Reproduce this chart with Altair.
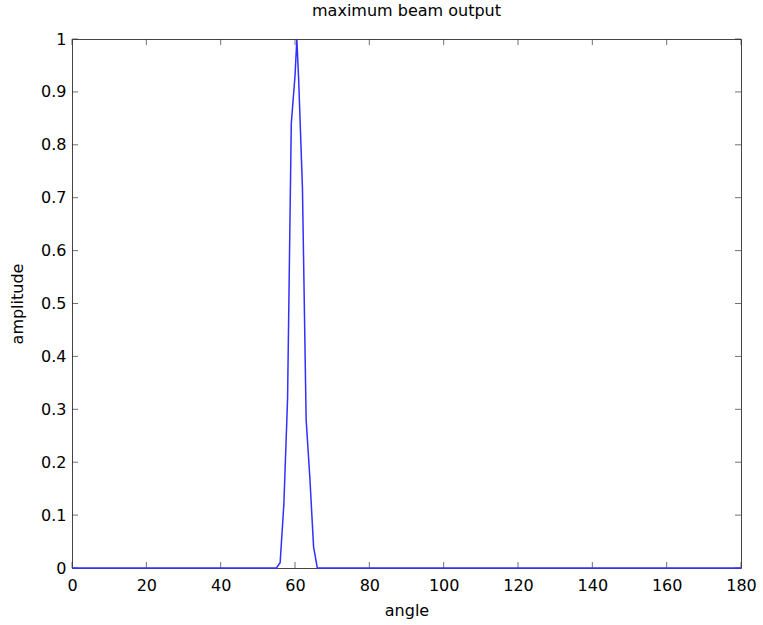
import altair as alt
import pandas as pd

# beam pattern samples (angle in degrees, normalized amplitude)
angles = [0, 55, 56, 57, 58, 59, 60, 60.5, 61, 62, 63, 64, 65, 66, 180]
amps = [0, 0, 0.01, 0.12, 0.32, 0.84, 0.93, 1.0, 0.92, 0.72, 0.28, 0.17, 0.04, 0, 0]

x_ticks = [0, 20, 40, 60, 80, 100, 120, 140, 160, 180]
y_ticks = [0, 0.1, 0.2, 0.3, 0.4, 0.5, 0.6, 0.7, 0.8, 0.9, 1]

W, H = 669, 529
FONT = "DejaVu Sans"

df = pd.DataFrame({"angle": angles, "amplitude": amps})
dx = pd.DataFrame({"t": x_ticks})
dy = pd.DataFrame({"t": y_ticks})

xscale = alt.Scale(domain=[0, 180], nice=False, zero=False)
yscale = alt.Scale(domain=[0, 1], nice=False, zero=False)

xaxis = alt.Axis(values=x_ticks, tickSize=0, domain=False, grid=False,
                 labelPadding=9, labelFontSize=16, labelFont=FONT, labelColor="#000",
                 labelFlush=False,
                 title="angle", titleFontSize=16, titleFont=FONT, titleFontWeight="normal",
                 titleColor="#000", titlePadding=9, format="d")
yaxis = alt.Axis(values=y_ticks, tickSize=0, domain=False, grid=False,
                 labelPadding=6, labelFontSize=16, labelFont=FONT, labelColor="#000",
                 title="amplitude", titleFontSize=16, titleFont=FONT, titleFontWeight="normal",
                 titleColor="#000", titlePadding=15, labelFlush=False, format="~g")

line = alt.Chart(df).mark_line(color="#3030ff", strokeWidth=1.5).encode(
    x=alt.X("angle:Q", scale=xscale, axis=xaxis),
    y=alt.Y("amplitude:Q", scale=yscale, axis=yaxis),
)

tick_color = "#333"
xb = alt.Chart(dx).mark_tick(orient="vertical", color=tick_color, size=6, thickness=1).encode(
    x=alt.X("t:Q", scale=xscale), y=alt.value(H - 3))
xt = alt.Chart(dx).mark_tick(orient="vertical", color=tick_color, size=6, thickness=1).encode(
    x=alt.X("t:Q", scale=xscale), y=alt.value(3))
yl = alt.Chart(dy).mark_tick(orient="horizontal", color=tick_color, size=6, thickness=1).encode(
    y=alt.Y("t:Q", scale=yscale), x=alt.value(3))
yr = alt.Chart(dy).mark_tick(orient="horizontal", color=tick_color, size=6, thickness=1).encode(
    y=alt.Y("t:Q", scale=yscale), x=alt.value(W - 3))

chart = alt.layer(xb, xt, yl, yr, line).properties(
    width=W, height=H,
    title=alt.TitleParams("maximum beam output", fontSize=16, font=FONT,
                          fontWeight="normal", color="#000", offset=12, anchor="middle"),
    autosize=alt.AutoSizeParams(type="none"),
    padding={"left": 72, "top": 39, "right": 22, "bottom": 57},
    background="white",
).configure_view(stroke="#444", strokeWidth=1)

chart.save("out.html", embed_options={"renderer": "svg", "actions": False})
